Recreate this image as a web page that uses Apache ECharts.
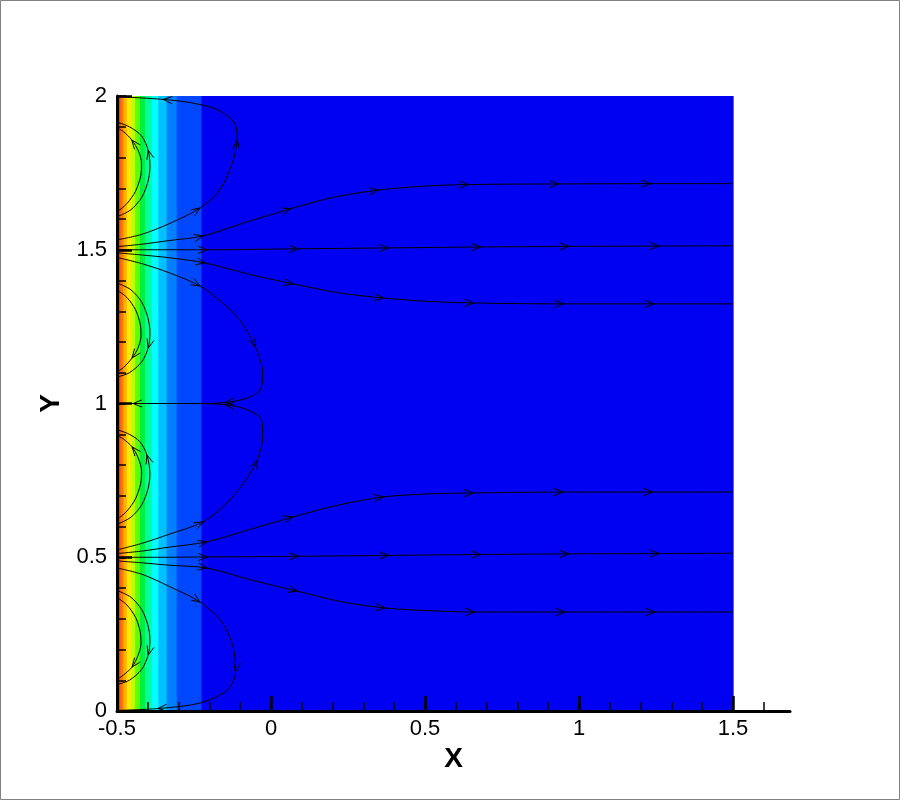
<!DOCTYPE html>
<html><head><meta charset="utf-8">
<script src="https://cdn.jsdelivr.net/npm/echarts@6/dist/echarts.min.js"></script>
<style>html,body{margin:0;padding:0;background:#fff}#c{width:900px;height:800px}</style>
</head><body><div id="c"></div>
<script>
// ---- axes ----
const xRange = [-0.5, 1.685];
const yRange = [0, 2];
const xTickLabels = [-0.5, 0, 0.5, 1, 1.5];
const yTickLabels = [0, 0.5, 1, 1.5, 2];
const xMinorTicks = [-0.5,-0.4,-0.3,-0.2,-0.1,0,0.1,0.2,0.3,0.4,0.5,0.6,0.7,0.8,0.9,1,1.1,1.2,1.3,1.4,1.5,1.6];
const yMinorTicks = [0,0.1,0.2,0.3,0.4,0.5,0.6,0.7,0.8,0.9,1,1.1,1.2,1.3,1.4,1.5,1.6,1.7,1.8,1.9,2];

// ---- contour bands (x edges, colours) ----
const bandEdges = [-0.5,-0.489,-0.4795,-0.4685,-0.4555,-0.4416,-0.4253,-0.4091,-0.3873,-0.3659,-0.3386,-0.3062,-0.2257,1.5];
const bandColors = ['#f0400a','#ff7800','#ffb000','#ffe800','#c0ff00','#60ff00','#00f040','#00ffa0','#00ffff','#00c0ff','#0080ff','#0048ff','#0000f2'];

// ---- streamlines (x, y) ----
const s15c = [[-0.5,1.5],[-0.35,1.5],[-0.207,1.5],[0.089,1.503],[0.382,1.506],[0.681,1.509],[0.967,1.511],[1.26,1.512],[1.5,1.513]];
const s15u = [[-0.5,1.51],[-0.42,1.518],[-0.33,1.53],[-0.22,1.545],[-0.08,1.59],[0.063,1.633],[0.2,1.67],[0.349,1.694],[0.5,1.707],[0.641,1.712],[0.934,1.714],[1.233,1.715],[1.5,1.715]];
const s15l = [[-0.5,1.49],[-0.42,1.483],[-0.33,1.474],[-0.214,1.457],[-0.07,1.42],[0.072,1.389],[0.22,1.36],[0.365,1.343],[0.51,1.332],[0.658,1.327],[0.95,1.324],[1.243,1.324],[1.5,1.324]];
const s15top = [[-0.5,1.532],[-0.42,1.55],[-0.33,1.585],[-0.23,1.636],[-0.17,1.69],[-0.13,1.77],[-0.11,1.857],[-0.118,1.912],[-0.175,1.956],[-0.26,1.978],[-0.35,1.989],[-0.5,1.998]];
const s15bot = [[-0.5,1.475],[-0.42,1.455],[-0.33,1.425],[-0.23,1.382],[-0.16,1.33],[-0.1,1.27],[-0.051,1.184],[-0.027,1.099],[-0.035,1.044],[-0.077,1.018],[-0.149,1.003],[-0.25,1.0],[-0.35,1.0],[-0.448,1.0],[-0.5,1.0]];
const s05c = [[-0.5,0.5],[-0.35,0.5],[-0.207,0.501],[0.089,0.503],[0.382,0.506],[0.681,0.509],[0.967,0.511],[1.26,0.512],[1.5,0.513]];
const s05u = [[-0.5,0.512],[-0.42,0.52],[-0.33,0.533],[-0.208,0.55],[-0.07,0.59],[0.071,0.631],[0.22,0.67],[0.364,0.696],[0.51,0.706],[0.656,0.709],[0.948,0.712],[1.24,0.712],[1.5,0.712]];
const s05l = [[-0.5,0.488],[-0.42,0.482],[-0.33,0.474],[-0.208,0.465],[-0.06,0.425],[0.084,0.39],[0.23,0.355],[0.37,0.335],[0.52,0.326],[0.662,0.322],[0.955,0.322],[1.247,0.322],[1.5,0.322]];
const s05top = [[-0.5,0.524],[-0.42,0.545],[-0.33,0.575],[-0.22,0.615],[-0.15,0.67],[-0.09,0.74],[-0.045,0.816],[-0.027,0.891],[-0.03,0.946],[-0.078,0.98],[-0.149,0.996],[-0.25,1.0],[-0.35,1.0],[-0.5,1.0]];
const s05bot = [[-0.5,0.465],[-0.42,0.445],[-0.33,0.405],[-0.23,0.354],[-0.16,0.29],[-0.123,0.208],[-0.115,0.127],[-0.142,0.068],[-0.23,0.026],[-0.367,0.008],[-0.5,0.002]];
// near-wall recirculation arcs
const a15uOuter = [[-0.5,1.607],[-0.455,1.63],[-0.42,1.67],[-0.4,1.72],[-0.393,1.77],[-0.399,1.824],[-0.42,1.87],[-0.46,1.9],[-0.5,1.915]];
const a15uInner = [[-0.5,1.623],[-0.468,1.65],[-0.44,1.69],[-0.423,1.74],[-0.42,1.78],[-0.43,1.82],[-0.452,1.857],[-0.48,1.885],[-0.5,1.896]];
const a15lOuter = [[-0.5,1.392],[-0.455,1.37],[-0.42,1.33],[-0.4,1.28],[-0.393,1.23],[-0.399,1.18],[-0.42,1.135],[-0.46,1.1],[-0.5,1.086]];
const a15lInner = [[-0.5,1.369],[-0.468,1.345],[-0.44,1.305],[-0.425,1.26],[-0.422,1.22],[-0.432,1.18],[-0.451,1.148],[-0.478,1.118],[-0.5,1.102]];
const a05uOuter = [[-0.5,0.607],[-0.455,0.63],[-0.42,0.67],[-0.4,0.72],[-0.393,0.77],[-0.403,0.833],[-0.425,0.875],[-0.46,0.9],[-0.5,0.915]];
const a05uInner = [[-0.5,0.623],[-0.468,0.65],[-0.44,0.69],[-0.423,0.74],[-0.42,0.78],[-0.432,0.825],[-0.451,0.859],[-0.48,0.885],[-0.5,0.896]];
const a05lOuter = [[-0.5,0.392],[-0.455,0.37],[-0.42,0.33],[-0.4,0.28],[-0.393,0.23],[-0.399,0.182],[-0.42,0.135],[-0.46,0.1],[-0.5,0.086]];
const a05lInner = [[-0.5,0.369],[-0.468,0.345],[-0.44,0.305],[-0.425,0.26],[-0.422,0.22],[-0.432,0.18],[-0.451,0.143],[-0.478,0.118],[-0.5,0.102]];

// arrow positions: indices of points in each streamline
const streamlines = [s15c, s15u, s15l, s15top, s15bot, s05c, s05u, s05l, s05top, s05bot,
  a15uOuter, a15uInner, a15lOuter, a15lInner, a05uOuter, a05uInner, a05lOuter, a05lInner];
const arrowIdx = [[2,3,4,5,6,7],[3,5,7,9,10,11],[3,5,7,9,10,11],[3,6,10],[3,6,10,13],
  [2,3,4,5,6,7],[3,5,7,9,10,11],[3,5,7,9,10,11],[3,6,10],[3,6,9],
  [5],[6],[5],[6],[5],[6],[5],[6]];

// ---- build ----
const bandData = bandColors.map((c, i) => [bandEdges[i], bandEdges[i+1], i]);
const arrowData = [];
streamlines.forEach((pts, k) => {
  arrowIdx[k].forEach(i => {
    const a = pts[Math.max(0, i-1)], b = pts[Math.min(pts.length-1, i+1)];
    arrowData.push([pts[i][0], pts[i][1], a[0], a[1], b[0], b[1]]);
  });
});

const font = 'Liberation Sans, Arial, Helvetica, sans-serif';
const series = [{
  type: 'custom',
  silent: true,
  z: 1,
  data: bandData,
  encode: {x: [0, 1]},
  renderItem: (params, api) => {
    const p0 = api.coord([api.value(0), yRange[1]]);
    const p1 = api.coord([api.value(1), yRange[0]]);
    return {type: 'rect', shape: {x: p0[0], y: p0[1], width: p1[0]-p0[0]+0.6, height: p1[1]-p0[1]},
      style: {fill: bandColors[api.value(2)]}};
  }
}];
streamlines.forEach(pts => series.push({
  type: 'line', data: pts, showSymbol: false, symbol: 'none', smooth: 0.3, silent: true, z: 3,
  lineStyle: {color: '#000', width: 1}
}));
series.push({
  type: 'custom', silent: true, z: 4, data: arrowData,
  encode: {x: [0, 2, 4], y: [1, 3, 5]},
  renderItem: (params, api) => {
    const p = api.coord([api.value(0), api.value(1)]);
    const a = api.coord([api.value(2), api.value(3)]);
    const b = api.coord([api.value(4), api.value(5)]);
    let dx = b[0]-a[0], dy = b[1]-a[1];
    const n = Math.hypot(dx, dy) || 1; dx /= n; dy /= n;
    const L = 9, s = 0.4;
    const bx = p[0]-dx*L, by = p[1]-dy*L;
    return {type: 'polyline', shape: {points: [[bx - dy*L*s, by + dx*L*s], p, [bx + dy*L*s, by - dx*L*s]]},
      style: {stroke: '#000', lineWidth: 1, fill: null}};
  }
});

const chart = echarts.init(document.getElementById('c'), null, {renderer: 'canvas'});
chart.setOption({
  animation: false,
  backgroundColor: '#fff',
  grid: {left: 117, right: 110, top: 96, bottom: 89, containLabel: false},
  xAxis: [{
    type: 'value', min: xRange[0], max: xRange[1], position: 'bottom', z: 10,
    axisLine: {show: true, onZero: false, lineStyle: {color: '#000', width: 3}},
    axisTick: {show: true, inside: true, length: 9, lineStyle: {color: '#000', width: 1.5}, customValues: xMinorTicks},
    axisLabel: {customValues: xTickLabels, color: '#000', fontSize: 22, fontFamily: font, margin: 7},
    splitLine: {show: false},
    name: 'X', nameLocation: 'middle', nameGap: 23,
    nameTextStyle: {color: '#000', fontSize: 28, fontWeight: 'bold', fontFamily: font}
  }, {
    type: 'value', min: xRange[0], max: xRange[1], position: 'bottom', z: 11,
    axisLine: {show: false, onZero: false},
    axisTick: {show: true, inside: true, length: 15, lineStyle: {color: '#000', width: 2.5}, customValues: xTickLabels},
    axisLabel: {show: false}, splitLine: {show: false}
  }],
  yAxis: [{
    type: 'value', min: yRange[0], max: yRange[1], position: 'left', z: 10,
    axisLine: {show: true, onZero: false, lineStyle: {color: '#000', width: 3}},
    axisTick: {show: true, inside: true, length: 9, lineStyle: {color: '#000', width: 1.5}, customValues: yMinorTicks},
    axisLabel: {customValues: yTickLabels, color: '#000', fontSize: 22, fontFamily: font, margin: 10},
    splitLine: {show: false},
    name: 'Y', nameLocation: 'middle', nameGap: 52,
    nameTextStyle: {color: '#000', fontSize: 28, fontWeight: 'bold', fontFamily: font}
  }, {
    type: 'value', min: yRange[0], max: yRange[1], position: 'left', z: 11,
    axisLine: {show: false, onZero: false},
    axisTick: {show: true, inside: true, length: 15, lineStyle: {color: '#000', width: 2.5}, customValues: yTickLabels},
    axisLabel: {show: false}, splitLine: {show: false}
  }],
  graphic: [{type: 'rect', silent: true, z: 100, shape: {x: 0.5, y: 0.5, width: 899, height: 799},
    style: {fill: null, stroke: '#808080', lineWidth: 1}}],
  series: series
});
</script>
</body></html>
